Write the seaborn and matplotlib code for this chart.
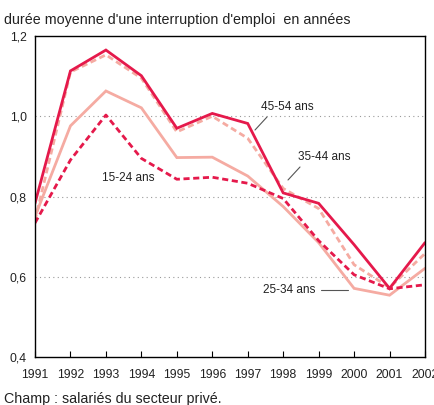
import matplotlib
matplotlib.use("Agg")
import matplotlib.pyplot as plt
import seaborn as sns
import pandas as pd

years = [1991, 1992, 1993, 1994, 1995, 1996, 1997, 1998, 1999, 2000, 2001, 2002]
age_45_54 = [0.783, 1.113, 1.165, 1.101, 0.970, 1.007, 0.982, 0.809, 0.783, 0.680, 0.571, 0.685]
age_35_44 = [0.740, 1.110, 1.153, 1.095, 0.961, 1.000, 0.945, 0.820, 0.770, 0.630, 0.573, 0.658]
age_25_34 = [0.750, 0.976, 1.063, 1.021, 0.897, 0.898, 0.851, 0.775, 0.685, 0.571, 0.554, 0.621]
age_15_24 = [0.734, 0.891, 1.003, 0.895, 0.843, 0.848, 0.833, 0.795, 0.690, 0.605, 0.570, 0.580]
y_ticks = [0.4, 0.6, 0.8, 1.0, 1.2]
y_labels = ["0,4", "0,6", "0,8", "1,0", "1,2"]

DARK = "#e5194b"
LIGHT = "#f5aba2"

sns.set_theme(style="white")
plt.rcParams["font.family"] = ["Liberation Sans", "DejaVu Sans"]

fig = plt.figure(figsize=(4.34, 4.05), dpi=100)
ax = fig.add_axes([35/434, 1-357/405, 390/434, 321/405])

series = [
    (age_25_34, LIGHT, None),
    (age_35_44, LIGHT, (2.2, 1.3)),
    (age_15_24, DARK, (2.2, 1.3)),
    (age_45_54, DARK, None),
]
for vals, col, dash in series:
    df = pd.DataFrame({"year": years, "val": vals})
    sns.lineplot(data=df, x="year", y="val", ax=ax, color=col, linewidth=2.0)
    line = ax.lines[-1]
    if dash is not None:
        line.set_dashes(dash)
    line.set_solid_joinstyle("miter")

ax.set_xlim(1991, 2002)
ax.set_ylim(0.4, 1.2)
ax.set_xticks(years)
ax.set_xticklabels([str(y) for y in years])
ax.set_yticks(y_ticks)
ax.set_yticklabels(y_labels)
ax.set_xlabel("")
ax.set_ylabel("")
for yv in [0.6, 0.8, 1.0]:
    ax.axhline(yv, color="#999999", linestyle=(0, (1, 3)), linewidth=0.8, zorder=0)
for s in ax.spines.values():
    s.set_visible(True)
    s.set_color("black")
    s.set_linewidth(1.0)
ax.tick_params(axis="x", direction="in", length=4, width=0.8, pad=9, labelsize=8.8, colors="black", bottom=True)
ax.tick_params(axis="y", length=0, pad=6, labelsize=8.8, colors="black")
for t in ax.get_xticklabels() + ax.get_yticklabels():
    t.set_color("#222222")

fig.text(4/434, 1-20/405, "durée moyenne d'une interruption d'emploi  en années", fontsize=10.3, va="center", ha="left", color="#222222")
fig.text(4/434, 1-399/405, "Champ : salariés du secteur privé.", fontsize=10.3, va="center", ha="left", color="#222222")

ann = dict(fontsize=8.5, color="#222222", va="center", ha="left")
def px(x, y):
    return ax.transData.inverted().transform(fig.transFigure.transform((x/434, 1-y/405)))

ax.text(*px(261, 107), "45-54 ans", **ann)
ax.text(*px(298, 157), "35-44 ans", **ann)
ax.text(*px(102, 178), "15-24 ans", **ann)
ax.text(*px(263, 290), "25-34 ans", **ann)
for (x0, y0, x1, y1) in [(255, 130, 267, 117), (288, 180, 300, 167), (321, 290, 348, 290)]:
    a = px(x0, y0); b = px(x1, y1)
    ax.plot([a[0], b[0]], [a[1], b[1]], color="#555555", linewidth=0.8)

fig.savefig("out.png", dpi=100)
